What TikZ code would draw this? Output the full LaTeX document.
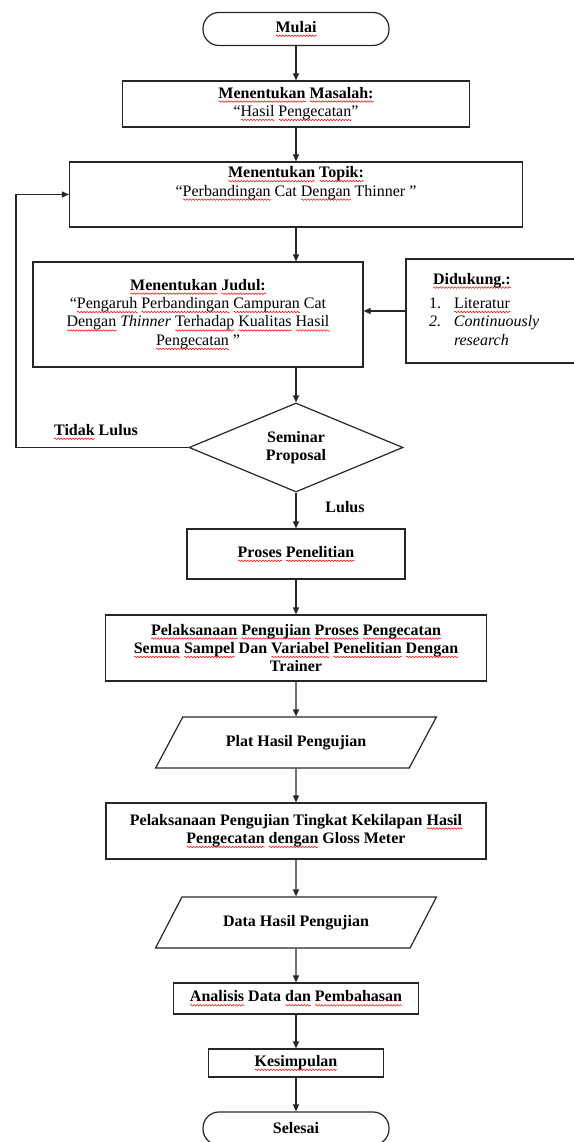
\documentclass[tikz,border=0pt]{standalone}
\usepackage{fontspec}
\setmainfont{Liberation Serif}
\usetikzlibrary{shapes.geometric,arrows.meta,decorations.pathmorphing}

% red spell-check wave under a word
\newsavebox{\wvbox}
\newlength{\wvlen}
\makeatletter
\newcommand{\wv}[1]{\sbox{\wvbox}{#1}\setlength{\wvlen}{\wd\wvbox}%
	\rlap{\pgfsys@beginscope\tikz[baseline=0pt]\draw[red,line width=0.5pt,sharp corners,decorate,
		decoration={snake,amplitude=0.8pt,segment length=3pt}] (0pt,-3.5pt) -- (\wvlen,-3.5pt);\pgfsys@endscope}%
	\usebox{\wvbox}}
\makeatother
\newcommand{\basefont}{\fontsize{16}{18.4}\selectfont}

\begin{document}
\begin{tikzpicture}[x=1pt,y=-1pt,>={Triangle[length=7pt,width=6pt]},
				line width=1.2pt,
				box/.style = {draw=black!85, line width=1.2pt, rectangle, align=center, inner sep=0pt, font=\basefont\bfseries},
				plain box/.style = {box, font=\basefont},
				term/.style = {box, rounded corners=16pt, minimum width=186pt, minimum height=33pt},
				io/.style = {box, trapezium, trapezium left angle=41, trapezium right angle=139,
					trapezium stretches=true, minimum width=281pt, minimum height=51pt},
				decision/.style = {box, diamond, aspect=2.4, minimum width=214pt, minimum height=89pt},
				note/.style = {font=\basefont\bfseries},
				conn/.style = {->, draw=black!85, line width=1.2pt}]
				
				\useasboundingbox (0,0) rectangle (573,1142);
				
				\node[term] (mulai) at (296,29) {\wv{Mulai}};
				\node[plain box, minimum width=347pt, minimum height=46pt] (masalah) at (296,104)
					{\textbf{\wv{Menentukan} \wv{Masalah:}}\\ “\wv{Hasil} \wv{Pengecatan}”};
				\node[plain box, minimum width=453pt, minimum height=65pt] (topik) at (296,194.5)
					{\textbf{\wv{Menentukan} \wv{Topik:}}\\ “\wv{Perbandingan} Cat \wv{Dengan} Thinner ”\\[8pt]};
				\node[plain box, minimum width=330pt, minimum height=105pt] (judul) at (198,314.5)
					{\textbf{\wv{Menentukan} \wv{Judul:}}\\ “\wv{Pengaruh} \wv{Perbandingan} \wv{Campuran} Cat\\
					\wv{Dengan} \textit{Thinner} \wv{Terhadap} \wv{Kualitas} \wv{Hasil}\\ \wv{Pengecatan} ”};
				\node[plain box, minimum width=174pt, minimum height=104pt, inner xsep=23pt,
					text width=128pt, align=left] (dukung) at (493,311)
					{\begin{tabular}{@{}p{25pt}@{}l@{}}
						\multicolumn{2}{@{\hspace{4pt}}l@{}}{\textbf{\wv{Didukung.:}}}\\[6pt]
						1. & \wv{Literatur}\\
						\textit{2.} & \textit{Continuously}\\
						& \textit{research}
					\end{tabular}};
				\node[decision] (seminar) at (296,447.5) {Seminar\\Proposal};
				\coordinate (balik) at (16,447.5);
				\node[note] (tidak) at (96,432) {\wv{Tidak} Lulus};
				\node[note] (lulus) at (345,507) {Lulus};
				\node[box, minimum width=218pt, minimum height=50pt] (proses) at (296,554)
					{\wv{Proses} \wv{Penelitian}};
				\node[box, minimum width=381pt, minimum height=66pt] (uji) at (296,648)
					{\wv{Pelaksanaan} \wv{Pengujian} \wv{Proses} \wv{Pengecatan}\\
					\wv{Semua} \wv{Sampel} Dan \wv{Variabel} \wv{Penelitian} \wv{Dengan}\\ Trainer};
				\node[io] (plat) at (296,742.5) {Plat Hasil Pengujian};
				\node[box, minimum width=380pt, minimum height=56pt] (kilap) at (296,831)
					{Pelaksanaan Pengujian Tingkat Kekilapan \wv{Hasil}\\ \wv{Pengecatan} \wv{dengan} Gloss Meter};
				\node[io] (data) at (296,922.5) {Data Hasil Pengujian};
				\node[box, minimum width=245pt, minimum height=31pt] (analisis) at (296,998.5)
					{\wv{Analisis} Data \wv{dan} \wv{Pembahasan}};
				\node[box, minimum width=175pt, minimum height=28pt] (simpulan) at (296,1063) {\wv{Kesimpulan}};
				\node[term] (selesai) at (296,1128.5) {Selesai};
				
				\draw[conn] (mulai) -- (masalah);
				\draw[conn] (masalah) -- (topik);
				\draw[conn] (topik.south) -- (topik.south |- judul.north);
				\draw[conn] (dukung.west) -- (dukung.west -| judul.east);
				\draw[conn] (judul.south -| seminar.north) -- (seminar.north);
				\draw[conn] (seminar.west) -- (balik) |- (topik.west);
				\draw[conn] (seminar) -- (proses);
				\draw[conn] (proses) -- (uji);
				\draw[conn] (uji) -- (plat);
				\draw[conn] (plat) -- (kilap);
				\draw[conn] (kilap) -- (data);
				\draw[conn] (data) -- (analisis);
				\draw[conn] (analisis) -- (simpulan);
				\draw[conn] (simpulan) -- (selesai);
\end{tikzpicture}
\end{document}
